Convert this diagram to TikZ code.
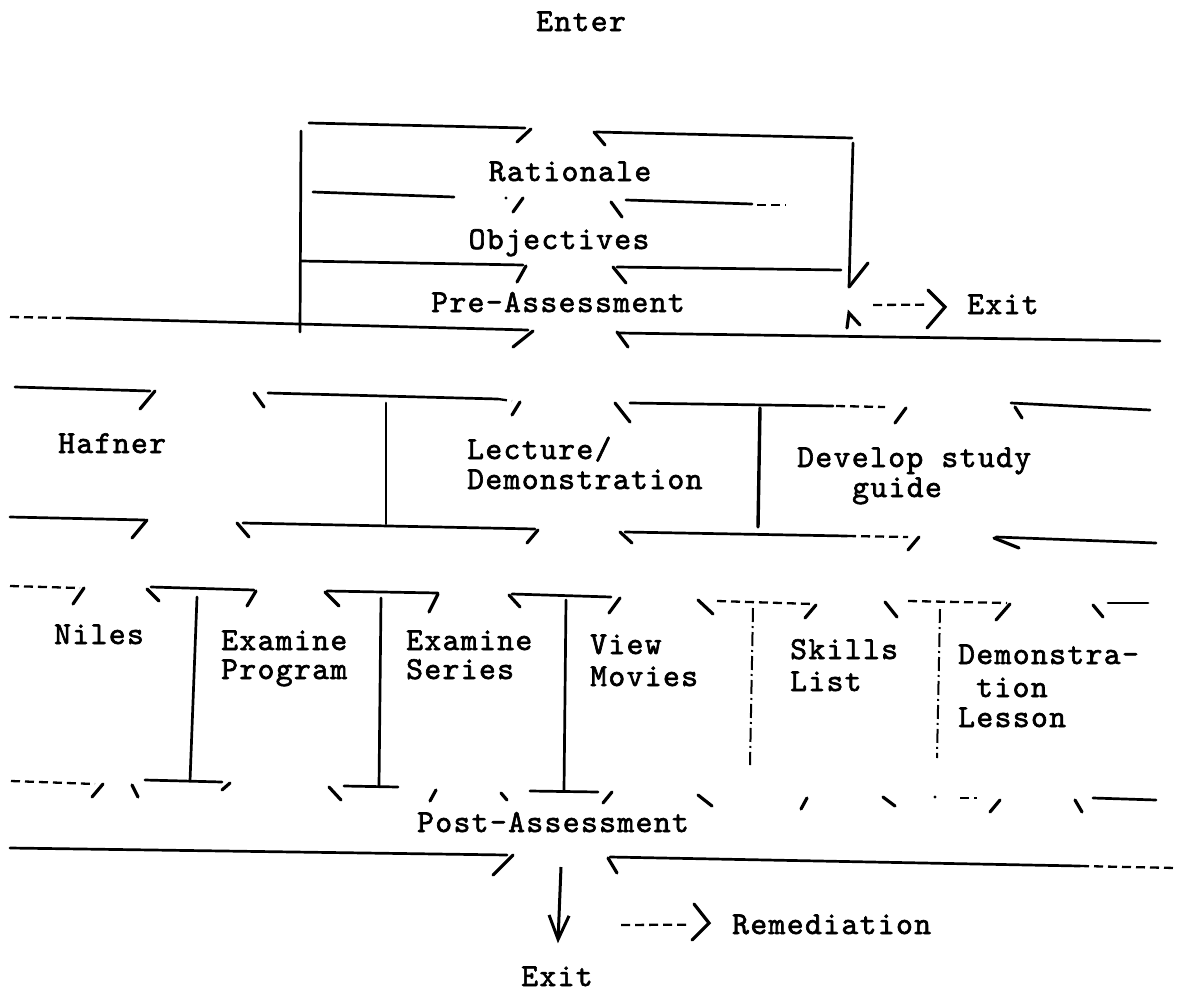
\documentclass[tikz,border=0pt]{standalone}
\usepackage{fontspec}
\newfontfamily\typefont[FakeBold=2, LetterSpace=4.4]{lmmono10-regular.otf}
\usetikzlibrary{arrows.meta}
\tikzset{
      wall/.style = { line width=2.7pt, line cap=round },
     faint/.style = { line width=2.3pt, dash pattern=on 9pt off 5pt },
      tick/.style = { line width=3.2pt, line cap=round },
     dotty/.style = { line width=2pt, dash pattern=on 14pt off 4pt on 2pt off 4pt },
      word/.style = { font=\typefont\fontsize{32}{36}\selectfont, inner sep=0pt, anchor=base west },
     cword/.style = { word, anchor=base },
    godown/.style = { line width=3pt, -{Straight Barb[length=24pt,width=20pt,line width=3pt]} }
}

\begin{document}
\begin{tikzpicture}[x=1pt, y=-1pt]
  \useasboundingbox (0,0) rectangle (1178,996);

  % texts
  \node [cword] (enter)  at (581,31)  {Enter};
  \node [cword] (rat)    at (570,181) {Rationale};
  \node [cword] (obj)    at (559,249) {Objectives};
  \node [cword] (pre)    at (558,312) {Pre-Assessment};
  \node [word]  (exit1)  at (967,314) {Exit};
  \node [word]  (hafner) at (58,453)  {Hafner};
  \node [word]  (lec1)   at (467,459) {Lecture/};
  \node [word]  (lec2)   at (467,489) {Demonstration};
  \node [word]  (dev1)   at (797,467) {Develop study};
  \node [word]  (dev2)   at (852,497) {guide};
  \node [word]  (niles)  at (54,644)  {Niles};
  \node [word]  (exa1)   at (221,650) {Examine};
  \node [word]  (exa2)   at (221,679) {Program};
  \node [word]  (exb1)   at (406,650) {Examine};
  \node [word]  (exb2)   at (406,679) {Series};
  \node [word]  (view1)  at (590,654) {View};
  \node [word]  (view2)  at (590,686) {Movies};
  \node [word]  (skl1)   at (790,659) {Skills};
  \node [word]  (skl2)   at (790,691) {List};
  \node [word]  (dem1)   at (958,664) {Demonstra-};
  \node [word]  (dem2)   at (976,697) {tion};
  \node [word]  (dem3)   at (958,727) {Lesson};
  \node [cword] (post)   at (553,832) {Post-Assessment};
  \node [word]  (remed)  at (732,934) {Remediation};
  \node [cword] (exit2)  at (557,986) {Exit};

  % loop round the top
  \draw [wall] (309,123) -- (525,128);
  \draw [tick] (531,129) -- (517,142);
  \draw [tick] (594,132) -- (605,145);
  \draw [wall] (596,132) -- (852,138);
  \draw [wall] (301,131) -- (300,332);
  \draw [wall] (853,143) -- (849,287);
  \draw [tick] (868,263) -- (849,287);

  % under Rationale
  \draw [wall] (313,192) -- (454,197);
  \fill (506,198) circle (1.6pt);
  \draw [tick] (523,198) -- (513,212);
  \draw [tick] (611,202) -- (622,217);
  \draw [wall] (626,200) -- (752,204);
  \draw [faint] (757,205) -- (786,205);

  % under Objectives
  \draw [wall] (301,261) -- (523,265);
  \draw [tick] (526,266) -- (517,282);
  \draw [tick] (613,267) -- (626,283);
  \draw [wall] (617,267) -- (841,270);

  % under Pre-Assessment
  \draw [faint] (10,317) -- (70,318);
  \draw [wall] (70,318) -- (528,330);
  \draw [tick] (533,331) -- (513,347);
  \draw [tick] (617,332) -- (628,347);
  \draw [wall] (619,333) -- (1160,341);
  \draw [tick] (847,328) -- (849,313) -- (860,325);
  \coordinate (exitgo) at (873,305);
  \draw [faint, shorten >=40pt] (exitgo) -- (exit1.west);
  \draw [tick] (928,290) -- (945,307) -- (927,328);

  % second band, top
  \draw [wall] (15,387) -- (150,391);
  \draw [tick] (155,391) -- (140,409);
  \draw [tick] (254,393) -- (264,407);
  \draw [wall] (268,393) -- (498,399);
  \draw [faint] (498,399) -- (512,401);
  \draw [tick] (520,402) -- (512,415);
  \draw [tick] (615,403) -- (630,422);
  \draw [wall] (630,403) -- (833,406);
  \draw [faint] (836,406) -- (885,407);
  \draw [tick] (906,408) -- (895,423);
  \draw [tick] (1015,407) -- (1022,418);
  \draw [wall] (1011,403) -- (1150,410);
  \draw [wall] (386,403) -- (386,524);
  \draw [wall, line width=3.4pt] (760,408) -- (758,527);

  % second band, bottom
  \draw [wall] (10,517) -- (145,520);
  \draw [tick] (147,520) -- (132,538);
  \draw [tick] (237,523) -- (249,537);
  \draw [wall] (243,523) -- (535,529);
  \draw [tick] (538,530) -- (527,543);
  \draw [tick] (620,532) -- (632,543);
  \draw [wall] (625,532) -- (847,536);
  \draw [faint] (847,536) -- (908,537);
  \draw [tick] (919,537) -- (908,550);
  \draw [tick] (994,538) -- (1019,548);
  \draw [wall] (996,537) -- (1156,543);

  % third band, top
  \draw [faint] (10,586) -- (80,588);
  \draw [tick] (84,588) -- (73,604);
  \draw [tick] (147,589) -- (159,601);
  \draw [wall] (151,587) -- (254,590);
  \draw [tick] (256,591) -- (247,606);
  \draw [tick] (325,592) -- (339,606);
  \draw [wall] (327,591) -- (438,593);
  \draw [tick] (438,594) -- (429,612);
  \draw [tick] (509,595) -- (520,607);
  \draw [wall] (512,594) -- (611,597);
  \draw [tick] (620,598) -- (609,613);
  \draw [tick] (698,600) -- (713,614);
  \draw [faint] (717,601) -- (813,604);
  \draw [tick] (816,605) -- (805,618);
  \draw [tick] (885,602) -- (897,617);
  \draw [faint] (908,601) -- (1007,603);
  \draw [tick] (1010,604) -- (996,620);
  \draw [tick] (1093,605) -- (1103,617);
  \draw [wall] (1108,603) -- (1148,603);
  \draw [wall] (197,597) -- (190,781);
  \draw [wall] (381,598) -- (379,786);
  \draw [wall] (566,600) -- (564,790);
  \draw [dotty] (753,608) -- (750,765);
  \draw [dotty] (940,609) -- (937,758);

  % third band, bottom
  \draw [faint] (11,781) -- (95,784);
  \draw [tick] (103,784) -- (92,797);
  \draw [tick] (132,785) -- (138,797);
  \draw [wall] (145,780) -- (222,782);
  \draw [tick] (230,783) -- (222,790);
  \draw [tick] (329,787) -- (341,800);
  \draw [wall] (344,786) -- (398,787);
  \draw [tick] (436,790) -- (430,801);
  \draw [tick] (501,793) -- (507,800);
  \draw [wall] (530,791) -- (598,792);
  \draw [tick] (612,792) -- (603,803);
  \draw [tick] (698,795) -- (712,806);
  \draw [tick] (807,798) -- (801,809);
  \draw [tick] (883,797) -- (895,806);
  \fill (935,797) circle (1.6pt);
  \draw [faint] (960,798) -- (977,798);
  \draw [tick] (1000,800) -- (990,812);
  \draw [tick] (1075,800) -- (1082,812);
  \draw [wall] (1093,798) -- (1156,800);

  % under Post-Assessment
  \draw [wall] (10,848) -- (507,855);
  \draw [tick] (513,855) -- (493,875);
  \draw [tick] (608,858) -- (617,873);
  \draw [wall] (610,857) -- (1080,866);
  \draw [faint] (1080,866) -- (1176,868);
  \coordinate (postgo) at (561,867);
  \draw [godown, shorten >=23pt] (postgo) -- (exit2.north);
  \coordinate (remgo) at (621,925);
  \draw [faint, shorten >=45pt] (remgo) -- (remed.west);
  \draw [tick] (694,904) -- (709,923) -- (692,940);
\end{tikzpicture}
\end{document}
